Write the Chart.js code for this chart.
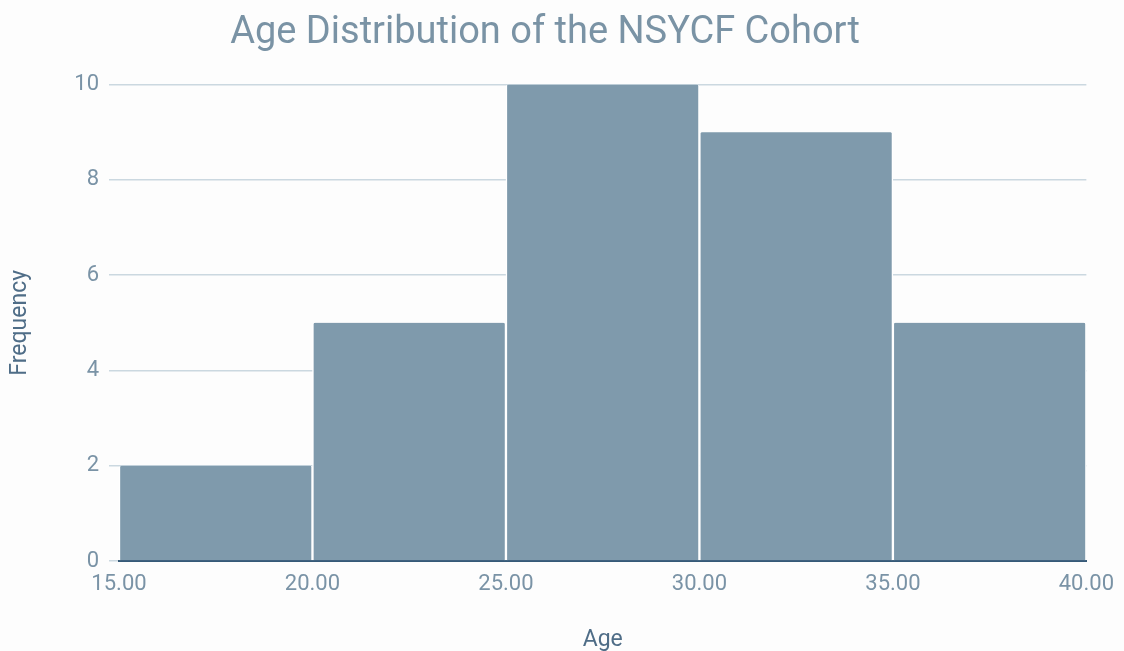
<!DOCTYPE html>
<html>
<head>
<meta charset="utf-8">
<title>Age Distribution of the NSYCF Cohort</title>
<script src="https://cdn.jsdelivr.net/npm/chart.js@4"></script>
<style>
  html, body { margin: 0; padding: 0; background: #fdfdfd; }
  #wrap { width: 1124px; height: 651px; }
</style>
</head>
<body>
<div id="wrap"><canvas id="ageChart"></canvas></div>
<script>
// histogram bins (age) and counts
const binEdges = [15, 20, 25, 30, 35, 40];
const frequencies = [2, 5, 10, 9, 5];
const yTicks = [0, 2, 4, 6, 8, 10];

const titleText = "Age Distribution of the NSYCF Cohort";
const xTitle = "Age";
const yTitle = "Frequency";

const barColor = "#7f9aac";
const labelColor = "#7a93a6";
const axisTitleColor = "#4f6d87";

document.addEventListener("DOMContentLoaded", function () {
    const ctx = document.getElementById("ageChart").getContext("2d");

    // one bar per bin, centred between its edges
    const points = frequencies.map((f, i) => ({ x: (binEdges[i] + binEdges[i + 1]) / 2, y: f }));

    new Chart(ctx, {
        type: "bar",
        data: {
            datasets: [{
                label: yTitle,
                data: points,
                backgroundColor: barColor,
                borderColor: "#ffffff",
                borderWidth: { left: 1.5, right: 1.5, top: 0, bottom: 0 },
                borderSkipped: false,
                borderRadius: { topLeft: 3, topRight: 3, bottomLeft: 0, bottomRight: 0 },
                barPercentage: 1,
                categoryPercentage: 1
            }]
        },
        options: {
            responsive: true,
            maintainAspectRatio: false,
            animation: false,
            layout: { padding: { left: 0, right: 34, top: 0, bottom: 0 } },
            plugins: {
                legend: { display: false },
                tooltip: { enabled: false },
                title: {
                    display: true,
                    text: titleText,
                    color: "#7a93a5",
                    font: { family: "Roboto", size: 38, weight: "normal" },
                    padding: { top: 11, bottom: 28 }
                }
            },
            scales: {
                x: {
                    type: "linear",
                    offset: false,
                    min: binEdges[0],
                    max: binEdges[binEdges.length - 1],
                    afterBuildTicks: function (scale) {
                        scale.ticks = binEdges.map(v => ({ value: v }));
                    },
                    grid: { display: false, drawTicks: false, offset: false },
                    border: { display: true, color: "#365a78", width: 2 },
                    ticks: {
                        color: labelColor,
                        font: { family: "Roboto", size: 22 },
                        padding: 10,
                        maxRotation: 0,
                        callback: v => Number(v).toFixed(2)
                    },
                    title: {
                        display: true,
                        text: xTitle,
                        color: axisTitleColor,
                        font: { family: "Roboto", size: 23 },
                        padding: { top: 19, bottom: -3 }
                    }
                },
                y: {
                    min: yTicks[0],
                    max: yTicks[yTicks.length - 1],
                    afterBuildTicks: function (scale) {
                        scale.ticks = yTicks.map(v => ({ value: v }));
                    },
                    afterFit: function (scale) {
                        scale.width = 119;
                    },
                    grid: { color: "#cbd8e0", lineWidth: 1.5, tickLength: 10 },
                    border: { display: false },
                    ticks: {
                        color: labelColor,
                        font: { family: "Roboto", size: 22 },
                        padding: 10
                    },
                    title: {
                        display: true,
                        text: yTitle,
                        color: axisTitleColor,
                        font: { family: "Roboto", size: 23 },
                        padding: { top: 6, bottom: 20 }
                    }
                }
            }
        }
    });
});
</script>
</body>
</html>
